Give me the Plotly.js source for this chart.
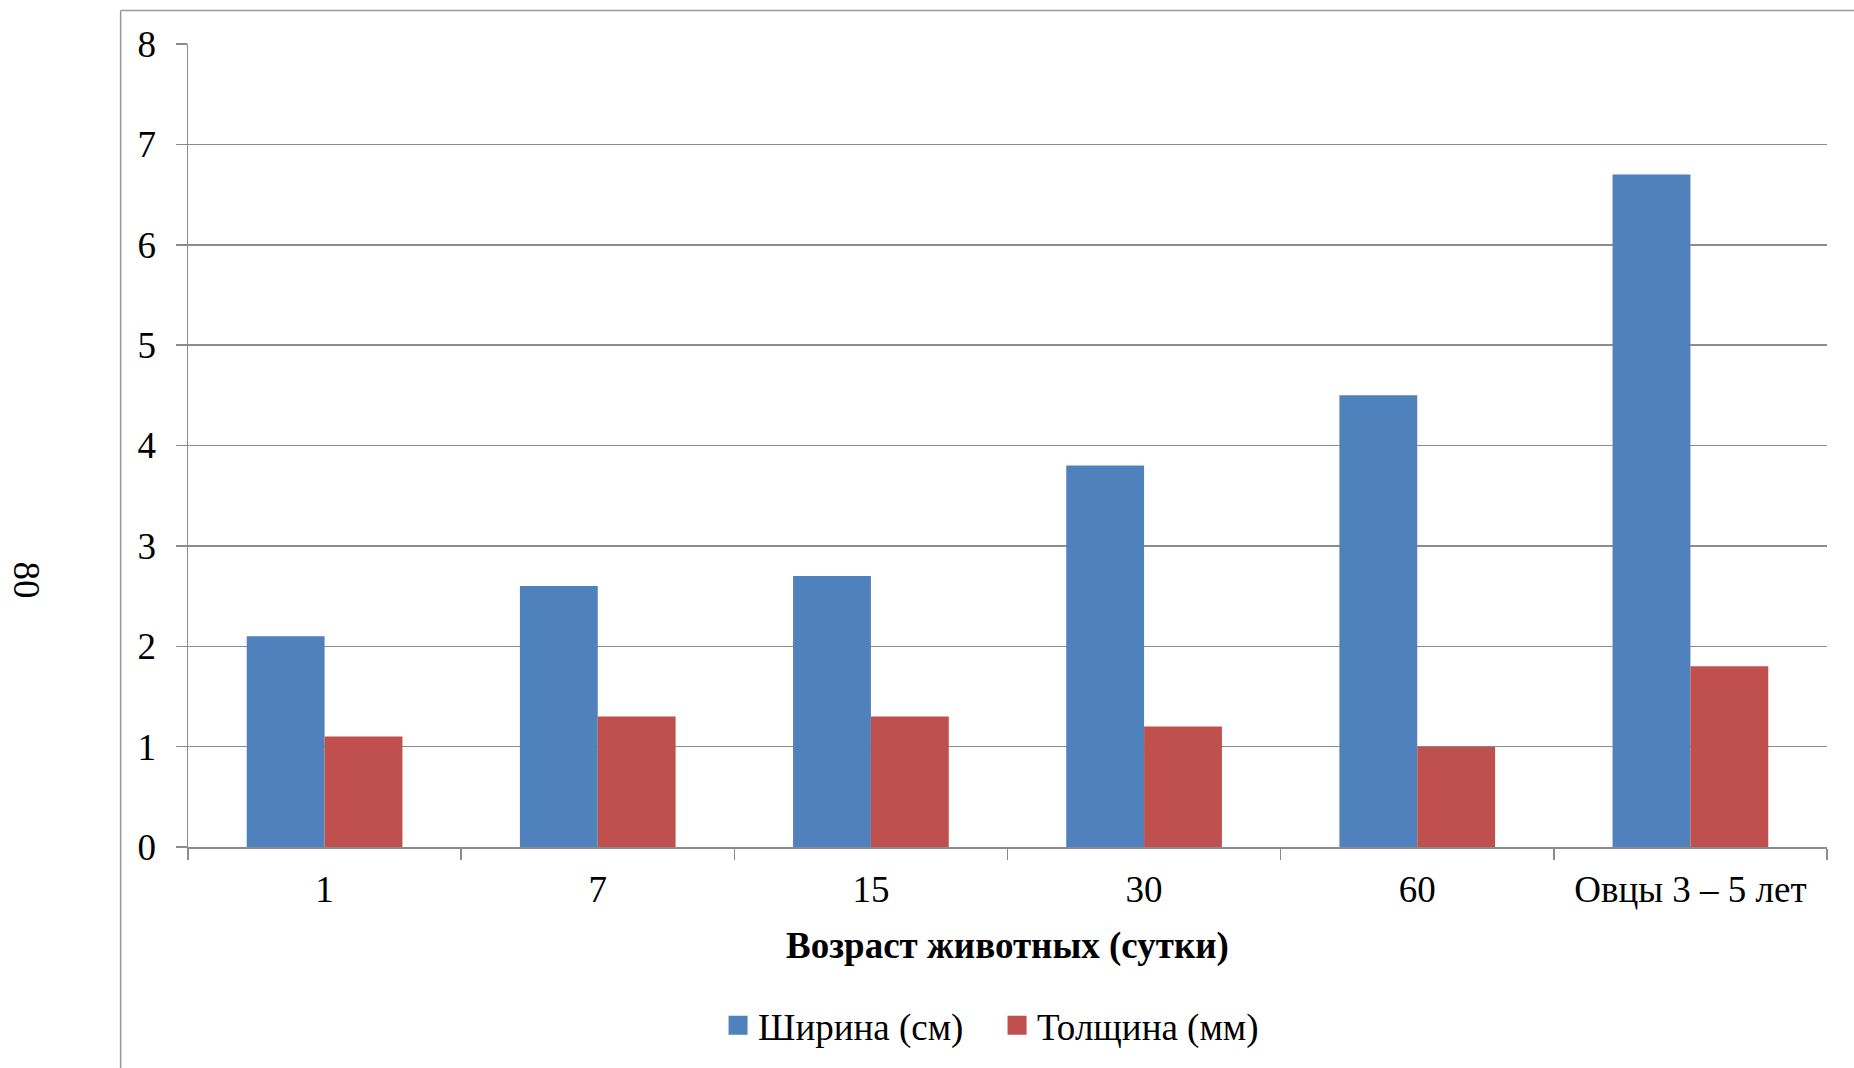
<!DOCTYPE html>
<html>
<head>
<meta charset="utf-8">
<script src="https://cdn.plot.ly/plotly-3.0.1.min.js"></script>
<style>html,body{margin:0;padding:0;background:#fff;}#chart{width:1854px;height:1068px;}</style>
</head>
<body>
<div id="chart"></div>
<script>
var categories = ["1", "7", "15", "30", "60", "Овцы 3 – 5 лет"];
var widthValues = [2.1, 2.6, 2.7, 3.8, 4.5, 6.7];
var thicknessValues = [1.1, 1.3, 1.3, 1.2, 1.0, 1.8];
var seriesNames = ["Ширина (см)", "Толщина (мм)"];
var seriesColors = ["#4F81BD", "#C0504D"];
var yTicks = [0, 1, 2, 3, 4, 5, 6, 7, 8];
var xTitle = "Возраст животных (сутки)";
var pageNumber = "80";

var font = "Liberation Serif, Times New Roman, serif";
var gridColor = "#8c8c8c";

var traces = [
  {type: "bar", x: categories, y: widthValues, name: seriesNames[0], showlegend: false,
   marker: {color: seriesColors[0], line: {width: 0}}, hoverinfo: "y"},
  {type: "bar", x: categories, y: thicknessValues, name: seriesNames[1], showlegend: false,
   marker: {color: seriesColors[1], line: {width: 0}}, hoverinfo: "y"},
  // legend entries (square swatches)
  {type: "scatter", mode: "markers", x: [categories[0]], y: [null], name: seriesNames[0],
   marker: {symbol: "square", size: 16, color: seriesColors[0], line: {width: 3, color: seriesColors[0]}},
   hoverinfo: "skip"},
  {type: "scatter", mode: "markers", x: [categories[0]], y: [null], name: seriesNames[1],
   marker: {symbol: "square", size: 16, color: seriesColors[1], line: {width: 3, color: seriesColors[1]}},
   hoverinfo: "skip"}
];

var layout = {
  width: 1854, height: 1068,
  margin: {l: 188, r: 27, t: 44, b: 220},
  paper_bgcolor: "#ffffff", plot_bgcolor: "#ffffff",
  font: {family: font, size: 37, color: "#000"},
  barmode: "group", bargap: 0.43, bargroupgap: 0,
  showlegend: true,
  legend: {orientation: "h", x: 0.3234, xanchor: "left", y: -0.221, yanchor: "middle",
           entrywidth: 234, entrywidthmode: "pixels",
           font: {family: font, size: 37, color: "#000"}, itemwidth: 30, traceorder: "normal"},
  xaxis: {
    type: "category", showgrid: false, zeroline: false,
    showline: true, linecolor: gridColor, linewidth: 1.5,
    ticks: "outside", tickson: "boundaries", ticklen: 11, tickcolor: gridColor, tickwidth: 1.5,
    ticklabelstandoff: 9,
    tickfont: {family: font, size: 37, color: "#000"},
    title: {text: "<b>" + xTitle + "</b>", font: {family: font, size: 37, color: "#000"}, standoff: 23}
  },
  yaxis: {
    range: [0, 8], tickvals: yTicks, ticktext: yTicks.map(String),
    showgrid: true, gridcolor: gridColor, gridwidth: 1.5, zeroline: false,
    showline: true, linecolor: gridColor, linewidth: 1.5,
    ticks: "outside", ticklen: 11, tickcolor: gridColor, tickwidth: 1.5,
    ticklabelstandoff: 12,
    tickfont: {family: font, size: 37, color: "#000"}
  },
  shapes: [
    {type: "line", xref: "paper", yref: "paper", x0: -0.0411, x1: -0.0411, y0: 1.0418, y1: -0.4,
     line: {color: "#999999", width: 1.5}},
    {type: "line", xref: "paper", yref: "paper", x0: -0.0411, x1: 1.1, y0: 1.0418, y1: 1.0418,
     line: {color: "#999999", width: 1.5}}
  ],
  annotations: [
    {text: pageNumber, xref: "paper", yref: "paper", x: -0.0988, y: 0.333, textangle: 90,
     xanchor: "center", yanchor: "middle",
     showarrow: false, font: {family: font, size: 37, color: "#000"}}
  ]
};

Plotly.newPlot("chart", traces, layout, {displayModeBar: false, staticPlot: true});
</script>
</body>
</html>
